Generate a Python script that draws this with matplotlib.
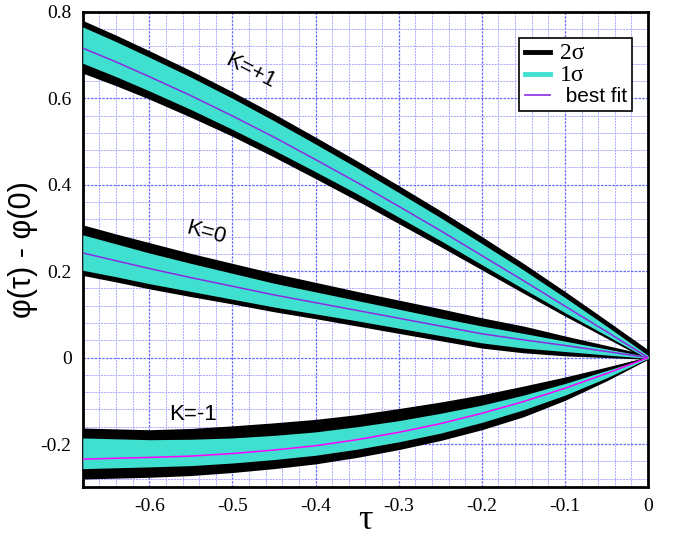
import numpy as np
import matplotlib.pyplot as plt
from matplotlib.ticker import MultipleLocator

plt.rcParams['axes.unicode_minus'] = False

# sample points along tau
tau = [-0.68, -0.64, -0.6, -0.55, -0.5, -0.45, -0.4, -0.35, -0.3, -0.25,
       -0.2, -0.15, -0.1, -0.05, 0.0]

# K=+1 : best fit, 2sigma high, 1sigma high, 1sigma low, 2sigma low
kp_best = [0.716, 0.684, 0.650, 0.606, 0.559, 0.510, 0.458, 0.405, 0.350,
           0.294, 0.236, 0.178, 0.119, 0.060, 0.0]
kp_2hi = [0.780, 0.746, 0.710, 0.664, 0.615, 0.564, 0.510, 0.455, 0.398,
          0.340, 0.280, 0.218, 0.153, 0.086, 0.018]
kp_1hi = [0.765, 0.731, 0.695, 0.649, 0.600, 0.548, 0.494, 0.439, 0.382,
          0.324, 0.264, 0.203, 0.139, 0.073, 0.005]
kp_1lo = [0.681, 0.650, 0.617, 0.574, 0.528, 0.480, 0.430, 0.379, 0.325,
          0.271, 0.215, 0.159, 0.104, 0.051, -0.003]
kp_2lo = [0.658, 0.629, 0.598, 0.556, 0.512, 0.464, 0.414, 0.363, 0.310,
          0.257, 0.203, 0.149, 0.096, 0.045, -0.006]

# K=0
k0_best = [0.242, 0.224, 0.206, 0.185, 0.165, 0.145, 0.127, 0.109, 0.091,
           0.073, 0.055, 0.041, 0.028, 0.014, 0.0]
k0_2hi = [0.307, 0.286, 0.266, 0.241, 0.218, 0.195, 0.174, 0.153, 0.133,
          0.113, 0.092, 0.073, 0.050, 0.028, 0.006]
k0_1hi = [0.284, 0.263, 0.242, 0.218, 0.195, 0.172, 0.152, 0.132, 0.112,
          0.092, 0.073, 0.056, 0.038, 0.020, 0.002]
k0_1lo = [0.202, 0.187, 0.171, 0.153, 0.135, 0.117, 0.101, 0.085, 0.068,
          0.051, 0.034, 0.022, 0.014, 0.006, -0.002]
k0_2lo = [0.190, 0.175, 0.159, 0.141, 0.124, 0.106, 0.090, 0.073, 0.056,
          0.039, 0.022, 0.011, 0.004, 0.000, -0.004]

# K=-1
km_best = [-0.235, -0.233, -0.231, -0.228, -0.222, -0.214, -0.204, -0.190,
           -0.173, -0.153, -0.129, -0.102, -0.071, -0.037, 0.0]
km_2hi = [-0.163, -0.165, -0.167, -0.164, -0.158, -0.151, -0.143, -0.132,
          -0.118, -0.103, -0.086, -0.066, -0.045, -0.022, 0.002]
km_1hi = [-0.186, -0.188, -0.190, -0.189, -0.186, -0.180, -0.172, -0.160,
          -0.146, -0.129, -0.110, -0.087, -0.060, -0.030, 0.0]
km_1lo = [-0.257, -0.255, -0.253, -0.250, -0.244, -0.236, -0.226, -0.212,
          -0.195, -0.175, -0.150, -0.121, -0.087, -0.047, -0.002]
km_2lo = [-0.281, -0.279, -0.277, -0.273, -0.266, -0.257, -0.246, -0.231,
          -0.213, -0.192, -0.167, -0.137, -0.099, -0.054, -0.004]

xticks = [-0.6, -0.5, -0.4, -0.3, -0.2, -0.1, 0.0]
xticklabels = ['-0.6', '-0.5', '-0.4', '-0.3', '-0.2', '-0.1', '0']
yticks = [-0.2, 0.0, 0.2, 0.4, 0.6, 0.8]
yticklabels = ['-0.2', '0', '0.2', '0.4', '0.6', '0.8']

cyan = '#40e0d0'
purple = '#8a2be2'
magenta = '#ff00ff'

fig = plt.figure(figsize=(6.73, 5.36), dpi=100)
ax = fig.add_axes([0.123, 0.091, 0.840, 0.887])

bands = [
    (kp_2lo, kp_2hi, kp_1lo, kp_1hi, kp_best, purple),
    (k0_2lo, k0_2hi, k0_1lo, k0_1hi, k0_best, purple),
    (km_2lo, km_2hi, km_1lo, km_1hi, km_best, magenta),
]
for lo2, hi2, lo1, hi1, best, col in bands:
    ax.fill_between(tau, lo2, hi2, color='black', lw=0, zorder=2)
    ax.fill_between(tau, lo1, hi1, color=cyan, lw=0, zorder=3)
    ax.plot(tau, best, color=col, lw=1.1, zorder=4)

ax.set_xlim(-0.68, 0.0)
ax.set_ylim(-0.3, 0.8)
ax.set_xticks(xticks)
ax.set_xticklabels(xticklabels, family='Liberation Serif', fontsize=14)
ax.set_yticks(yticks)
ax.set_yticklabels(yticklabels, family='Liberation Serif', fontsize=14)
ax.xaxis.set_minor_locator(MultipleLocator(0.02))
ax.yaxis.set_minor_locator(MultipleLocator(0.04))
ax.tick_params(which='both', direction='in', length=0, pad=8)
ax.grid(which='major', color='#6a6aff', ls=(0, (2, 1)), lw=0.9)
ax.grid(which='minor', color='#a8a8ff', ls=(0, (2, 1)), lw=0.7)
ax.set_axisbelow(True)
for sp in ax.spines.values():
    sp.set_linewidth(2)

ax.set_xlabel('τ', family='Liberation Serif', fontsize=26, labelpad=-8)
ax.set_ylabel('φ(τ) - φ(0)', family='Liberation Sans', fontsize=22, labelpad=2)

ax.text(-0.478, 0.663, 'K=+1', fontsize=16, family='Liberation Sans',
        rotation=-27, ha='center', va='center')
ax.text(-0.532, 0.288, 'K=0', fontsize=16, family='Liberation Sans',
        rotation=-15, ha='center', va='center')
ax.text(-0.547, -0.131, 'K=-1', fontsize=16, family='Liberation Sans',
        ha='center', va='center')

h2, = ax.plot([], [], color='black', lw=3.5)
h1, = ax.plot([], [], color=cyan, lw=3.5)
hb, = ax.plot([], [], color=purple, lw=1.2)
leg = ax.legend([h2, h1, hb], ['2σ', '1σ', ' best fit'], loc='upper right',
                bbox_to_anchor=(0.972, 0.945), borderaxespad=0,
                fancybox=False, framealpha=1,
                edgecolor='black', handlelength=1.2, handletextpad=0.5,
                borderpad=0.25, labelspacing=0.05, fontsize=15)
leg.get_frame().set_linewidth(1.2)
for t in leg.get_texts()[:2]:
    t.set_family('Liberation Serif')
    t.set_fontsize(17)
leg.get_texts()[2].set_family('Liberation Sans')

fig.savefig('out.png', dpi=100)
